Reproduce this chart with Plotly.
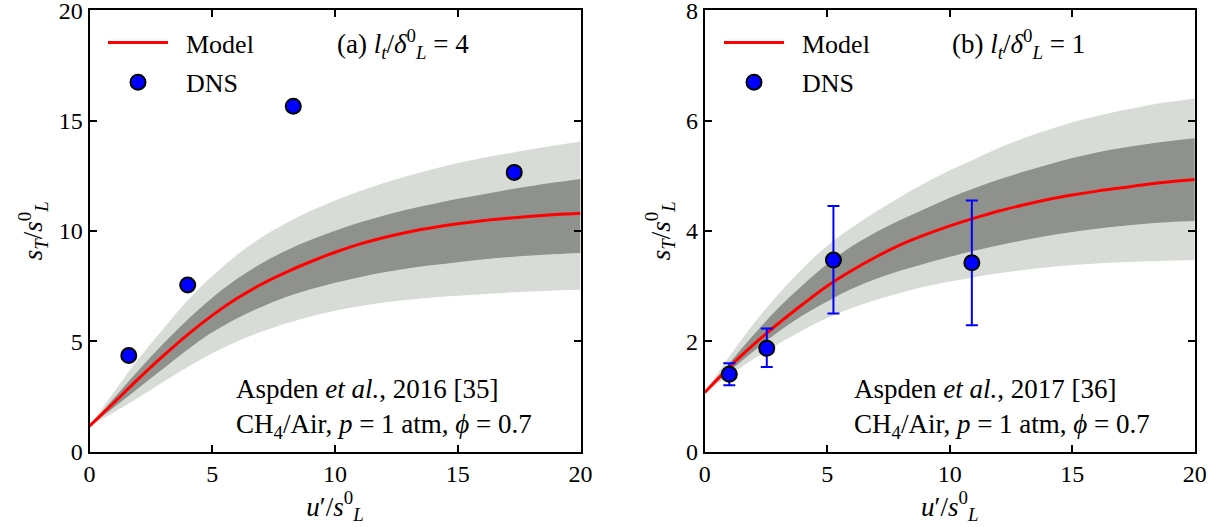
import plotly.graph_objects as go

# ---------------- data ----------------
x_grid = list(range(0, 21))

# panel (a) l_t/delta = 4
a_model    = [1.15, 2.22, 3.30, 4.33, 5.30, 6.17, 6.93, 7.58, 8.12, 8.60, 9.03,
              9.40, 9.70, 9.95, 10.15, 10.32, 10.46, 10.57, 10.66, 10.74, 10.80]
a_outer_up = [1.15, 2.70, 4.20, 5.55, 6.85, 7.95, 8.90, 9.70, 10.35, 10.90, 11.38,
              11.80, 12.17, 12.50, 12.80, 13.07, 13.30, 13.50, 13.70, 13.88, 14.05]
a_inner_up = [1.15, 2.42, 3.68, 4.88, 5.98, 6.97, 7.82, 8.52, 9.10, 9.58, 10.00,
              10.38, 10.70, 10.98, 11.22, 11.45, 11.65, 11.85, 12.03, 12.20, 12.35]
a_inner_lo = [1.15, 2.00, 2.88, 3.75, 4.62, 5.40, 6.03, 6.55, 7.00, 7.35, 7.65,
              7.90, 8.12, 8.30, 8.45, 8.58, 8.70, 8.80, 8.88, 8.95, 9.00]
a_outer_lo = [1.15, 1.78, 2.45, 3.15, 3.83, 4.45, 4.98, 5.43, 5.80, 6.12, 6.38,
              6.58, 6.75, 6.88, 6.98, 7.06, 7.13, 7.20, 7.25, 7.30, 7.33]
a_dns_x = [1.6, 4.0, 8.3, 17.3]
a_dns_y = [4.35, 7.55, 15.65, 12.65]

# panel (b) l_t/delta = 1
b_model    = [1.07, 1.53, 1.94, 2.32, 2.67, 3.00, 3.28, 3.53, 3.75, 3.93, 4.09,
              4.23, 4.36, 4.47, 4.57, 4.65, 4.72, 4.78, 4.84, 4.89, 4.93]
b_outer_up = [1.07, 1.72, 2.32, 2.85, 3.32, 3.73, 4.06, 4.35, 4.62, 4.87, 5.10,
              5.30, 5.50, 5.68, 5.83, 5.97, 6.08, 6.18, 6.27, 6.34, 6.40]
b_inner_up = [1.07, 1.60, 2.12, 2.60, 3.02, 3.40, 3.72, 3.98, 4.20, 4.40, 4.60,
              4.77, 4.93, 5.07, 5.20, 5.32, 5.42, 5.50, 5.57, 5.63, 5.68]
b_inner_lo = [1.07, 1.45, 1.82, 2.17, 2.47, 2.72, 2.95, 3.13, 3.28, 3.41, 3.53,
              3.64, 3.74, 3.83, 3.91, 3.98, 4.04, 4.09, 4.13, 4.16, 4.18]
b_outer_lo = [1.07, 1.38, 1.68, 1.95, 2.20, 2.42, 2.60, 2.75, 2.88, 2.99, 3.08,
              3.16, 3.23, 3.29, 3.34, 3.38, 3.41, 3.43, 3.45, 3.46, 3.47]
b_dns_x = [1.0, 2.53, 5.25, 10.9]
b_dns_y = [1.40, 1.87, 3.47, 3.42]
b_err_hi = [1.60, 2.23, 4.45, 4.55]
b_err_lo = [1.20, 1.53, 2.50, 2.29]

a_yticks = [0, 5, 10, 15, 20]
b_yticks = [0, 2, 4, 6, 8]
x_ticks = [0, 5, 10, 15, 20]

LIGHT = "#d8dcd7"
DARK = "#8f918d"
FONT = "Liberation Serif"

fig = go.Figure()

def add_panel(xa, ya, model, oup, iup, ilo, olo, legend):
    fig.add_trace(go.Scatter(x=x_grid, y=olo, mode="lines", line=dict(width=0, shape="spline"),
                             xaxis=xa, yaxis=ya, showlegend=False, hoverinfo="skip"))
    fig.add_trace(go.Scatter(x=x_grid, y=oup, mode="lines", line=dict(width=0, shape="spline"),
                             fill="tonexty", fillcolor=LIGHT, xaxis=xa, yaxis=ya,
                             showlegend=False, hoverinfo="skip"))
    fig.add_trace(go.Scatter(x=x_grid, y=ilo, mode="lines", line=dict(width=0, shape="spline"),
                             xaxis=xa, yaxis=ya, showlegend=False, hoverinfo="skip"))
    fig.add_trace(go.Scatter(x=x_grid, y=iup, mode="lines", line=dict(width=0, shape="spline"),
                             fill="tonexty", fillcolor=DARK, xaxis=xa, yaxis=ya,
                             showlegend=False, hoverinfo="skip"))
    fig.add_trace(go.Scatter(x=x_grid, y=model, mode="lines", name="&nbsp;&nbsp;Model",
                             line=dict(color="#ff0000", width=3, shape="spline"),
                             xaxis=xa, yaxis=ya, legend=legend, legendgroup="m"))

add_panel("x", "y", a_model, a_outer_up, a_inner_up, a_inner_lo, a_outer_lo, "legend")
fig.add_trace(go.Scatter(x=a_dns_x, y=a_dns_y, mode="markers", name="&nbsp;&nbsp;DNS",
                         marker=dict(color="#0000ff", size=15, line=dict(color="black", width=2)),
                         xaxis="x", yaxis="y", legend="legend", legendgroup="d"))

add_panel("x2", "y2", b_model, b_outer_up, b_inner_up, b_inner_lo, b_outer_lo, "legend2")
fig.add_trace(go.Scatter(x=b_dns_x, y=b_dns_y, mode="markers", name="&nbsp;&nbsp;DNS",
                         marker=dict(color="#0000ff", size=15, line=dict(color="black", width=2)),
                         error_y=dict(type="data", symmetric=False,
                                      array=[h - v for h, v in zip(b_err_hi, b_dns_y)],
                                      arrayminus=[v - l for l, v in zip(b_err_lo, b_dns_y)],
                                      color="#0000ff", thickness=2, width=6),
                         xaxis="x2", yaxis="y2", legend="legend2", legendgroup="d"))

ydom = [1 - 451.5 / 527, 1 - 10.2 / 527]
xdom1 = [89.5 / 1220, 580.5 / 1220]
xdom2 = [704.8 / 1220, 1194.8 / 1220]

xtitle = "<i>u</i>′/<i>s</i><sup>0</sup><sub><i>L</i></sub>"
ytitle = "<i>s<sub>T</sub></i>/<i>s</i><sup>0</sup><sub><i>L</i></sub>"

axis_common = dict(showgrid=False, zeroline=False, showline=True, linecolor="black", linewidth=2,
                   mirror="ticks", ticks="inside", ticklen=7, tickwidth=1.5, tickcolor="black",
                   ticklabeloverflow="allow", automargin=False,
                   tickfont=dict(family=FONT, size=24, color="black"))

TFS = 27

fig.update_layout(
    width=1220, height=527, autosize=False,
    margin=dict(l=0, r=0, t=0, b=0),
    paper_bgcolor="white", plot_bgcolor="white",
    font=dict(family=FONT, size=TFS, color="black"),
    xaxis=dict(domain=xdom1, range=[0, 20], tickvals=x_ticks, anchor="y",
               title=dict(text=xtitle, font=dict(family=FONT, size=TFS), standoff=2), **axis_common),
    yaxis=dict(domain=ydom, range=[0, 20], tickvals=a_yticks, anchor="x",
               title=dict(text=ytitle, font=dict(family=FONT, size=TFS), standoff=8), **axis_common),
    xaxis2=dict(domain=xdom2, range=[0, 20], tickvals=x_ticks, anchor="y2",
                title=dict(text=xtitle, font=dict(family=FONT, size=TFS), standoff=2), **axis_common),
    yaxis2=dict(domain=ydom, range=[0, 8], tickvals=b_yticks, anchor="x2",
                title=dict(text=ytitle, font=dict(family=FONT, size=TFS), standoff=8), **axis_common),
    legend=dict(x=103 / 1220, y=1 - 19 / 527, xanchor="left", yanchor="top",
                bgcolor="rgba(0,0,0,0)", font=dict(family=FONT, size=26),
                tracegroupgap=3, itemwidth=60),
    legend2=dict(x=719 / 1220, y=1 - 19 / 527, xanchor="left", yanchor="top",
                 bgcolor="rgba(0,0,0,0)", font=dict(family=FONT, size=26),
                 tracegroupgap=3, itemwidth=60),
    annotations=[
        dict(xref="x", yref="y", x=10.0, y=18.45, xanchor="left", yanchor="middle", showarrow=False,
             text="(a) <i>l<sub>t</sub></i>/<i>δ</i><sup>0</sup><sub><i>L</i></sub> = 4",
             font=dict(family=FONT, size=TFS)),
        dict(xref="x2", yref="y2", x=10.0, y=7.39, xanchor="left", yanchor="middle", showarrow=False,
             text="(b) <i>l<sub>t</sub></i>/<i>δ</i><sup>0</sup><sub><i>L</i></sub> = 1",
             font=dict(family=FONT, size=TFS)),
        dict(xref="x", yref="y", x=5.9, y=0.3, xanchor="left", yanchor="bottom", showarrow=False,
             align="left",
             text="Aspden <i>et al.</i>, 2016 [35]<br>CH<sub>4</sub>/Air, <i>p</i> = 1 atm, <i>ϕ</i> = 0.7",
             font=dict(family=FONT, size=TFS)),
        dict(xref="x2", yref="y2", x=6.0, y=0.12, xanchor="left", yanchor="bottom", showarrow=False,
             align="left",
             text="Aspden <i>et al.</i>, 2017 [36]<br>CH<sub>4</sub>/Air, <i>p</i> = 1 atm, <i>ϕ</i> = 0.7",
             font=dict(family=FONT, size=TFS)),
    ],
)

fig.write_html("out.html")
